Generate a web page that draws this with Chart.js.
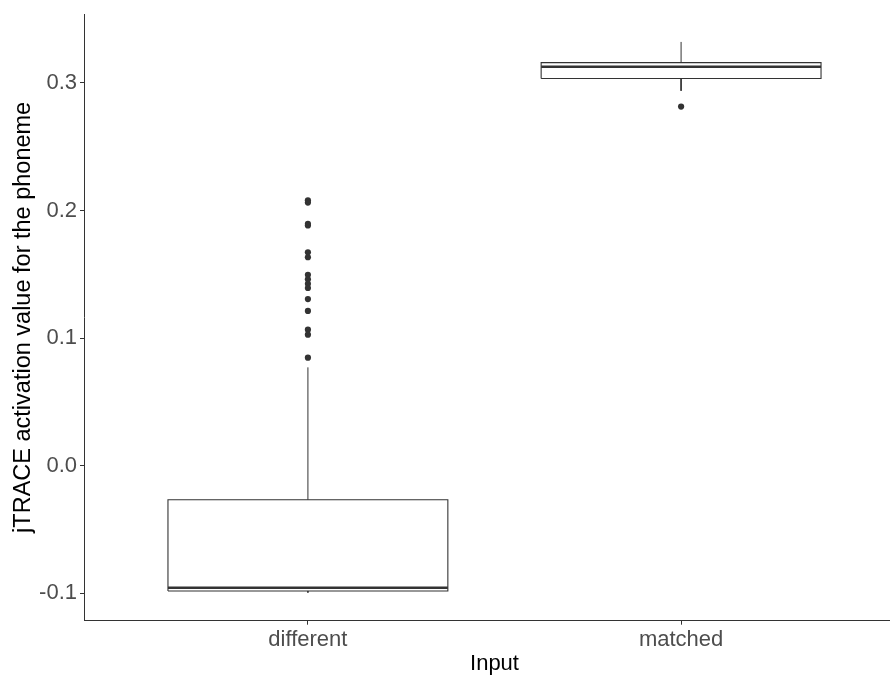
<!DOCTYPE html>
<html>
<head>
<meta charset="utf-8">
<script src="https://cdn.jsdelivr.net/npm/chart.js@4"></script>
<style>
  html, body { margin: 0; padding: 0; background: #fff; overflow: hidden; }
  #wrap { width: 909px; height: 677px; }
</style>
</head>
<body>
<div id="wrap"><canvas id="boxChart"></canvas></div>
<script>
// box plot summary per input group
const categories = ['different', 'matched'];
const lowerWhisker = [-0.0996, 0.2938];
const q1 = [-0.0983, 0.3034];
const median = [-0.0958, 0.3126];
const q3 = [-0.0268, 0.3159];
const upperWhisker = [0.0770, 0.3321];
const outliers = [
  [0.2080, 0.2062, 0.1895, 0.1882, 0.1672, 0.1633, 0.1495, 0.1460, 0.1425, 0.1392,
   0.1305, 0.1212, 0.1065, 0.1026, 0.0846],
  [0.2814],
];
const yTicks = [-0.1, 0.0, 0.1, 0.2, 0.3];

const BOX_HALF = 0.375;
const INK = '#333333';
const FONT = "'Liberation Sans', Arial, sans-serif";

function line(points, width) {
  return {
    type: 'line',
    data: points,
    borderColor: INK,
    borderWidth: width,
    pointRadius: 0,
    fill: false,
    tension: 0,
  };
}

function boxDatasets(i) {
  const c = i + 1;
  const l = c - BOX_HALF, r = c + BOX_HALF;
  return [
    line([{ x: c, y: q3[i] }, { x: c, y: upperWhisker[i] }], 1),
    line([{ x: c, y: q1[i] }, { x: c, y: lowerWhisker[i] }], 1),
    line([
      { x: l, y: q1[i] }, { x: r, y: q1[i] }, { x: r, y: q3[i] },
      { x: l, y: q3[i] }, { x: l, y: q1[i] },
    ], 1.1),
    line([{ x: l, y: median[i] }, { x: r, y: median[i] }], 2.6),
    {
      type: 'scatter',
      data: outliers[i].map(v => ({ x: c, y: v })),
      backgroundColor: INK,
      borderColor: INK,
      borderWidth: 0,
      pointRadius: 3.1,
    },
  ];
}

const datasets = [];
categories.forEach((_, i) => datasets.push(...boxDatasets(i)));

new Chart(document.getElementById('boxChart').getContext('2d'), {
  type: 'scatter',
  data: { datasets },
  options: {
    responsive: true,
    maintainAspectRatio: false,
    animation: false,
    events: [],
    layout: { padding: 0 },
    plugins: {
      legend: { display: false },
      tooltip: { enabled: false },
    },
    scales: {
      x: {
        type: 'linear',
        min: 0.4,
        max: 2.6,
        afterBuildTicks: scale => {
          scale.ticks = categories.map((_, i) => ({ value: i + 1 }));
        },
        afterFit: scale => { scale.height = 56.3; },
        ticks: {
          color: '#4d4d4d',
          font: { size: 22, family: FONT, lineHeight: 1 },
          padding: 4,
          maxRotation: 0,
          callback: v => categories[v - 1],
        },
        grid: { drawOnChartArea: false, tickLength: 4, color: INK },
        border: { color: INK, width: 1 },
        title: {
          display: true,
          text: 'Input',
          color: '#000',
          font: { size: 22, family: FONT },
          padding: { top: 0, bottom: 0 },
        },
      },
      y: {
        type: 'linear',
        min: -0.1216,
        max: 0.354,
        afterBuildTicks: scale => {
          scale.ticks = yTicks.map(v => ({ value: v }));
        },
        afterFit: scale => { scale.width = 84; },
        ticks: {
          color: '#4d4d4d',
          font: { size: 22, family: FONT, lineHeight: 1 },
          padding: 3,
          callback: v => v.toFixed(1),
        },
        grid: { drawOnChartArea: false, tickLength: 4, color: INK },
        border: { color: INK, width: 1 },
        title: {
          display: true,
          text: 'jTRACE activation value for the phoneme',
          color: '#000',
          font: { size: 23.5, family: FONT },
          padding: { top: 9, bottom: 0 },
        },
      },
    },
  },
});
</script>
</body>
</html>
